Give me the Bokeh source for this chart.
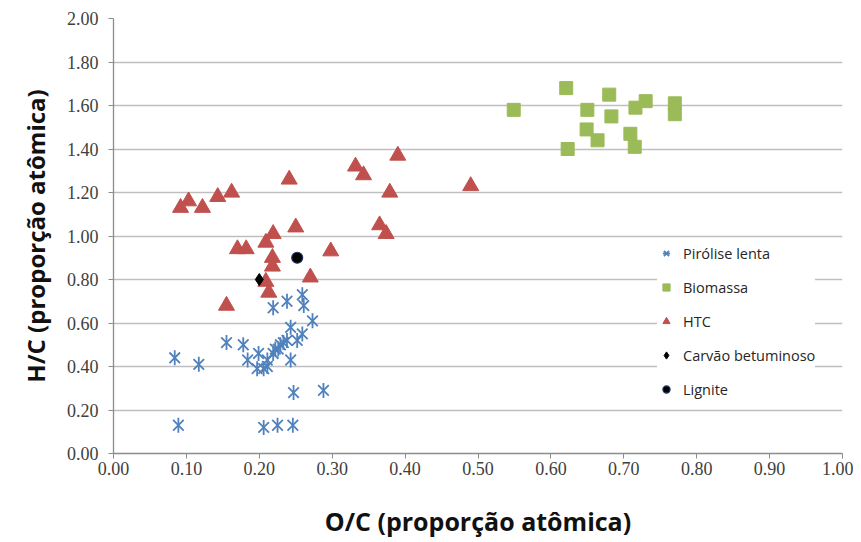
import numpy as np
from bokeh.plotting import figure
from bokeh.models import (Legend, LegendItem, ColumnDataSource, SingleIntervalTicker,
                          NumeralTickFormatter, Range1d)
from bokeh.embed import file_html
from bokeh.resources import INLINE

# ---- data (O/C, H/C atomic ratios) ----
pirolise_oc = [0.084, 0.117, 0.155, 0.178, 0.184, 0.197, 0.199, 0.206, 0.211, 0.211,
               0.219, 0.222, 0.226, 0.229, 0.233, 0.238, 0.243, 0.243, 0.252, 0.259,
               0.273, 0.261, 0.259, 0.238, 0.219, 0.247, 0.288, 0.089, 0.206, 0.225, 0.246]
pirolise_hc = [0.44, 0.41, 0.51, 0.50, 0.43, 0.39, 0.46, 0.39, 0.43, 0.40,
               0.46, 0.48, 0.48, 0.50, 0.51, 0.52, 0.43, 0.58, 0.52, 0.55,
               0.61, 0.68, 0.73, 0.70, 0.67, 0.28, 0.29, 0.13, 0.12, 0.13, 0.13]

biomassa_oc = [0.549, 0.621, 0.623, 0.650, 0.649, 0.664, 0.680, 0.683, 0.716, 0.730,
               0.709, 0.715, 0.770, 0.770]
biomassa_hc = [1.58, 1.68, 1.40, 1.58, 1.49, 1.44, 1.65, 1.55, 1.59, 1.62,
               1.47, 1.41, 1.61, 1.56]

htc_oc = [0.092, 0.103, 0.122, 0.143, 0.162, 0.241, 0.332, 0.343, 0.390, 0.379,
          0.365, 0.374, 0.250, 0.219, 0.209, 0.170, 0.182, 0.298, 0.218, 0.218,
          0.270, 0.213, 0.155, 0.490, 0.209]
htc_hc = [1.13, 1.16, 1.13, 1.18, 1.20, 1.26, 1.32, 1.28, 1.37, 1.20,
          1.05, 1.01, 1.04, 1.01, 0.97, 0.94, 0.94, 0.93, 0.90, 0.86,
          0.81, 0.74, 0.68, 1.23, 0.79]

carvao_oc = [0.20]
carvao_hc = [0.80]

lignite_oc = [0.252]
lignite_hc = [0.90]

BLUE = "#4F81BD"
GREEN = "#9BBB59"
RED = "#C0504D"

p = figure(width=853, height=534, frame_width=729, frame_height=435,
           min_border_left=113, min_border_top=18, min_border_right=11, min_border_bottom=81,
           output_backend="svg", toolbar_location=None,
           x_range=Range1d(0, 1), y_range=Range1d(0, 2))
p.outline_line_color = None
p.background_fill_color = "white"
p.border_fill_color = "white"

# grid
p.xgrid.grid_line_color = None
p.ygrid.grid_line_color = "#BFBFBF"
p.ygrid.grid_line_width = 1.5

# axes
p.xaxis.ticker = SingleIntervalTicker(interval=0.1)
p.yaxis.ticker = SingleIntervalTicker(interval=0.2)
p.xaxis.formatter = NumeralTickFormatter(format="0.00")
p.yaxis.formatter = NumeralTickFormatter(format="0.00")
for ax in (p.xaxis[0], p.yaxis[0]):
    ax.axis_line_color = "#8C8C8C"
    ax.axis_line_width = 1.3
    ax.major_tick_line_color = "#8C8C8C"
    ax.major_tick_out = 5
    ax.major_tick_in = 0
    ax.minor_tick_line_color = None
    ax.major_label_text_font = "Times New Roman"
    ax.major_label_text_font_size = "18px"
    ax.major_label_text_color = "#404040"
    ax.axis_label_text_font = "Open Sans"
    ax.axis_label_text_font_style = "bold"
    ax.axis_label_text_font_size = "24px"
    ax.axis_label_text_color = "#111111"

p.xaxis.axis_label = "O/C (proporção atômica)"
p.yaxis.axis_label = "H/C (proporção atômica)"
p.xaxis.axis_label_text_font_size = "25px"
p.xaxis.major_label_standoff = 3
p.xaxis.axis_label_standoff = 26
p.yaxis.major_label_standoff = 10
p.yaxis.axis_label_standoff = 12

# glyphs
src_p = ColumnDataSource(dict(x=pirolise_oc, y=pirolise_hc))
r_p1 = p.scatter("x", "y", source=src_p, marker="x", size=15, line_color=BLUE, line_width=1.8)
r_p2 = p.scatter("x", "y", source=src_p, marker="dash", size=15, angle=np.pi / 2,
                 line_color=BLUE, line_width=1.8)

r_b = p.scatter(biomassa_oc, biomassa_hc, marker="square", size=13,
                fill_color=GREEN, line_color=GREEN)
r_h = p.scatter(htc_oc, htc_hc, marker="triangle", size=16,
                fill_color=RED, line_color=RED)
r_c = p.scatter(carvao_oc, carvao_hc, marker="diamond", size=12,
                fill_color="black", line_color="black")
r_l = p.scatter(lignite_oc, lignite_hc, marker="circle", size=11,
                fill_color="black", line_color="#1F3864", line_width=1.2)

legend = Legend(items=[
    LegendItem(label="Pirólise lenta", renderers=[r_p1, r_p2]),
    LegendItem(label="Biomassa", renderers=[r_b]),
    LegendItem(label="HTC", renderers=[r_h]),
    LegendItem(label="Carvão betuminoso", renderers=[r_c]),
    LegendItem(label="Lignite", renderers=[r_l]),
], location=(544, 54), orientation="vertical")
legend.padding = 0
legend.margin = 0
legend.spacing = 14
legend.glyph_width = 18
legend.glyph_height = 20
legend.label_height = 20
legend.label_standoff = 8
legend.border_line_color = None
legend.background_fill_color = "white"
legend.background_fill_alpha = 1.0
legend.label_text_font = "Open Sans"
legend.label_text_font_size = "14.5px"
legend.label_text_color = "#262626"
p.add_layout(legend, "center")

open("out.html", "w").write(file_html(p, INLINE))
